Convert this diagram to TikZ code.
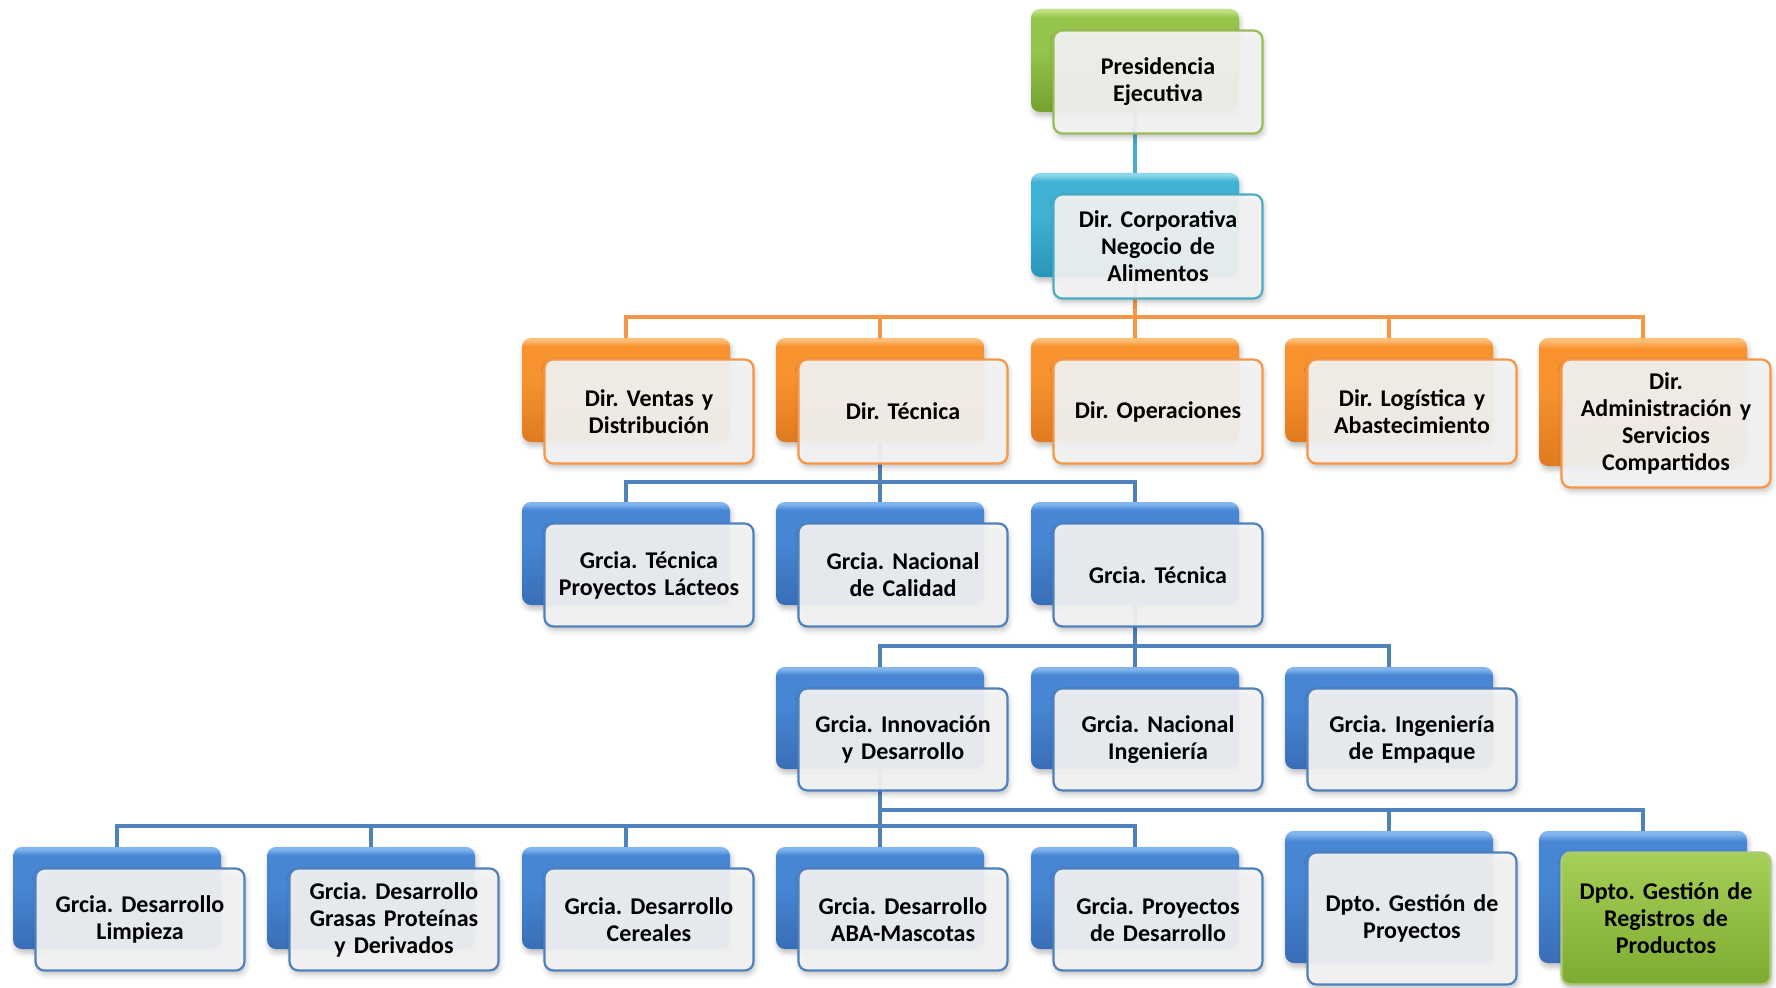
\documentclass[tikz,border=0pt]{standalone}
\usepackage{fontspec}
\setmainfont{Carlito}
\usetikzlibrary{backgrounds,shadows.blur}
\frenchspacing

% accent colours
\definecolor{accCyan}{HTML}{4BACC6}
\definecolor{accOrange}{HTML}{F79646}
\definecolor{accBlue}{HTML}{4F81BD}
\definecolor{accGreen}{HTML}{9BBB59}
\definecolor{frontfill}{HTML}{F5F5F5}

% back tile shades: light bevel on top, body, darker base
\definecolor{cyanLight}{HTML}{8AD6EA}
\definecolor{cyanMain}{HTML}{3FB2D4}
\definecolor{cyanBot}{HTML}{2A96B8}
\definecolor{orangeLight}{HTML}{FDBE78}
\definecolor{orangeMain}{HTML}{F7922F}
\definecolor{orangeBot}{HTML}{E07A1F}
\definecolor{blueLight}{HTML}{82B5EE}
\definecolor{blueMain}{HTML}{4686D3}
\definecolor{blueBot}{HTML}{396EB6}
\definecolor{greenLight}{HTML}{C0E283}
\definecolor{greenMain}{HTML}{95C44B}
\definecolor{greenBot}{HTML}{74A12F}
\definecolor{limeTop}{HTML}{A6D058}
\definecolor{limeBot}{HTML}{7DAA31}

\pgfdeclareverticalshading{cyanback}{100bp}{color(0bp)=(cyanBot); color(25bp)=(cyanBot); color(55bp)=(cyanMain); color(71bp)=(cyanMain); color(74bp)=(cyanLight); color(100bp)=(cyanLight)}
\pgfdeclareverticalshading{orangeback}{100bp}{color(0bp)=(orangeBot); color(25bp)=(orangeBot); color(55bp)=(orangeMain); color(71bp)=(orangeMain); color(74bp)=(orangeLight); color(100bp)=(orangeLight)}
\pgfdeclareverticalshading{blueback}{100bp}{color(0bp)=(blueBot); color(25bp)=(blueBot); color(55bp)=(blueMain); color(71bp)=(blueMain); color(74bp)=(blueLight); color(100bp)=(blueLight)}
\pgfdeclareverticalshading{greenback}{100bp}{color(0bp)=(greenBot); color(25bp)=(greenBot); color(55bp)=(greenMain); color(71bp)=(greenMain); color(74bp)=(greenLight); color(100bp)=(greenLight)}
\pgfdeclareverticalshading{limefront}{100bp}{color(0bp)=(limeBot); color(25bp)=(limeBot); color(75bp)=(limeTop); color(100bp)=(limeTop)}

\tikzset{
  tileshadow/.style={blur shadow={shadow xshift=1.5pt, shadow yshift=-4pt, shadow blur radius=5pt, shadow opacity=25}},
  backbox/.style={anchor=north west, minimum width=208pt, outer sep=0pt,
    rounded corners=9pt, shading=#1back, tileshadow},
  frontbase/.style={anchor=north west, minimum width=209pt, outer sep=0pt, inner sep=2pt,
    rounded corners=9pt, line width=2.2pt, text width=205pt, align=center,
    font=\bfseries\fontsize{24}{27}\selectfont, tileshadow},
  frontbox/.style={frontbase, fill=frontfill, fill opacity=0.92, text opacity=1, draw=#1},
  limebox/.style={frontbase, shading=limefront, draw=accGreen!80!white},
  orgline/.style={draw=#1, line width=3.6pt, line join=miter, line cap=rect},
}

% one chart unit: shaded back tile plus the label card in front of it
% #1 name, #2 x, #3 y (top left of the back tile), #4 height,
% #5 back scheme, #6 card style, #7 label
\newcommand\orgunit[7]{%
  \node[backbox=#5, minimum height=#4pt] (#1b) at (#2,#3) {};
  \node[#6, minimum height=#4pt] (#1) at (#2+22.5,#3+21.5) {#7};
}

\begin{document}
\begin{tikzpicture}[x=1pt, y=-1pt]
\useasboundingbox (0,0) rectangle (1776,987);

% top of the chart
\orgunit{pres}{1031}{9}{103}{green}{frontbox=accGreen}{Presidencia\\Ejecutiva}
\orgunit{corp}{1031}{173}{104}{cyan}{frontbox=accCyan}{Dir. Corporativa\\Negocio de\\Alimentos}

% directorates
\orgunit{ventas}{522}{338}{104}{orange}{frontbox=accOrange}{Dir. Ventas y\\Distribución}
\orgunit{tec}{776}{338}{104}{orange}{frontbox=accOrange}{Dir. Técnica}
\orgunit{oper}{1031}{338}{104}{orange}{frontbox=accOrange}{Dir. Operaciones}
\orgunit{logis}{1285}{338}{104}{orange}{frontbox=accOrange}{Dir. Logística y\\Abastecimiento}
\orgunit{admin}{1539}{338}{128}{orange}{frontbox=accOrange}{Dir.\\Administración y\\Servicios\\Compartidos}

% under Dir. Técnica
\orgunit{lact}{522}{502}{103}{blue}{frontbox=accBlue}{Grcia. Técnica\\Proyectos Lácteos}
\orgunit{cal}{776}{502}{103}{blue}{frontbox=accBlue}{Grcia. Nacional\\de Calidad}
\orgunit{gtec}{1031}{502}{103}{blue}{frontbox=accBlue}{Grcia. Técnica}

% under Grcia. Técnica
\orgunit{innov}{776}{667}{102}{blue}{frontbox=accBlue}{Grcia. Innovación\\y Desarrollo}
\orgunit{ning}{1031}{667}{102}{blue}{frontbox=accBlue}{Grcia. Nacional\\Ingeniería}
\orgunit{emp}{1285}{667}{102}{blue}{frontbox=accBlue}{Grcia. Ingeniería\\de Empaque}

% under Grcia. Innovación y Desarrollo
\orgunit{limp}{13}{847}{102}{blue}{frontbox=accBlue}{Grcia. Desarrollo\\Limpieza}
\orgunit{grasas}{267}{847}{102}{blue}{frontbox=accBlue}{Grcia. Desarrollo\\Grasas Proteínas\\y Derivados}
\orgunit{cer}{522}{847}{102}{blue}{frontbox=accBlue}{Grcia. Desarrollo\\Cereales}
\orgunit{aba}{776}{847}{102}{blue}{frontbox=accBlue}{Grcia. Desarrollo\\ABA-Mascotas}
\orgunit{pdes}{1031}{847}{102}{blue}{frontbox=accBlue}{Grcia. Proyectos\\de Desarrollo}
\orgunit{gproy}{1285}{831}{132}{blue}{frontbox=accBlue}{Dpto. Gestión de\\Proyectos}
\orgunit{greg}{1539}{831}{132}{blue}{limebox}{Dpto. Gestión de\\Registros de\\Productos}

% bus levels
\coordinate (busDir) at (0,317);
\coordinate (busTec) at (0,482);
\coordinate (busGtec) at (0,646);
\coordinate (busInnA) at (0,826);
\coordinate (busInnB) at (0,810);

\begin{pgfonlayer}{background}
  \draw[orgline=accCyan] (presb.south) -- (corpb.north);
  \foreach \c in {ventas,tec,oper,logis,admin}
    \draw[orgline=accOrange] (corpb.south) -- (corpb.south |- busDir) -| (\c b.north);
  \foreach \c in {lact,cal,gtec}
    \draw[orgline=accBlue] (tecb.south) -- (tecb.south |- busTec) -| (\c b.north);
  \foreach \c in {innov,ning,emp}
    \draw[orgline=accBlue] (gtecb.south) -- (gtecb.south |- busGtec) -| (\c b.north);
  \foreach \c in {limp,grasas,cer,aba,pdes}
    \draw[orgline=accBlue] (innovb.south) -- (innovb.south |- busInnA) -| (\c b.north);
  \foreach \c in {gproy,greg}
    \draw[orgline=accBlue] (innovb.south) -- (innovb.south |- busInnB) -| (\c b.north);
\end{pgfonlayer}
\end{tikzpicture}
\end{document}
